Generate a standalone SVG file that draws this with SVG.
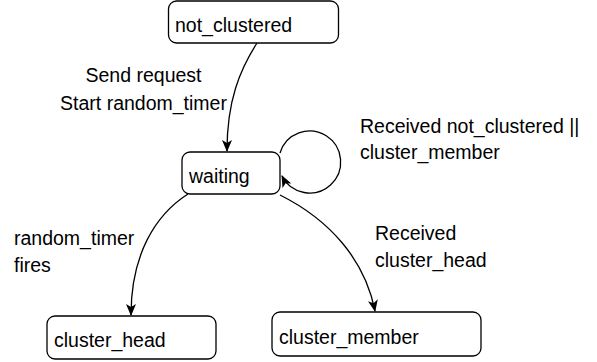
<svg xmlns="http://www.w3.org/2000/svg" width="597" height="362" viewBox="0 0 597 362">
  <defs>
    <marker id="arrow" viewBox="0 0 12 10" refX="11" refY="5" markerWidth="12" markerHeight="10" markerUnits="userSpaceOnUse" orient="auto">
      <path d="M0,0 L12,5 L0,10 L3,5 z" fill="#000"/>
    </marker>
    <style>
      .state rect { fill: #fff; stroke: #000; stroke-width: 1.3; }
      text { font-family: "Liberation Sans", Arial, sans-serif; font-size: 19.5px; fill: #000; }
      .edge { fill: none; stroke: #000; stroke-width: 1.3; marker-end: url(#arrow); }
    </style>
  </defs>
  <rect width="597" height="362" fill="#fff"/>

  <g id="connectors">
    <path class="edge" d="M257,43 C240,70 227,100 227,151"/>
    <path class="edge" d="M188,194 C155,215 131,255 131,315"/>
    <path class="edge" d="M280,195 C330,220 365,260 375,311"/>
    <path class="edge" d="M280,153 A31,31 0 1 1 282,176"/>
  </g>

  <g id="edge-labels">
    <text x="143.5" y="82" text-anchor="middle">Send request</text>
    <text x="143.5" y="110" text-anchor="middle">Start random_timer</text>
    <text x="360" y="133">Received not_clustered ||</text>
    <text x="360" y="159">cluster_member</text>
    <text x="14" y="245">random_timer</text>
    <text x="14" y="272">fires</text>
    <text x="375" y="240">Received</text>
    <text x="375" y="267">cluster_head</text>
  </g>

  <g id="not_clustered" class="state">
    <rect x="168.5" y="1" width="170" height="42" rx="8"/>
    <text x="175" y="32">not_clustered</text>
  </g>
  <g id="waiting" class="state">
    <rect x="182" y="152" width="98" height="42" rx="8"/>
    <text x="189" y="183">waiting</text>
  </g>
  <g id="cluster_head" class="state">
    <rect x="47" y="316" width="169" height="43" rx="8"/>
    <text x="54" y="347">cluster_head</text>
  </g>
  <g id="cluster_member" class="state">
    <rect x="272" y="312" width="209" height="44" rx="8"/>
    <text x="279" y="344">cluster_member</text>
  </g>
</svg>
